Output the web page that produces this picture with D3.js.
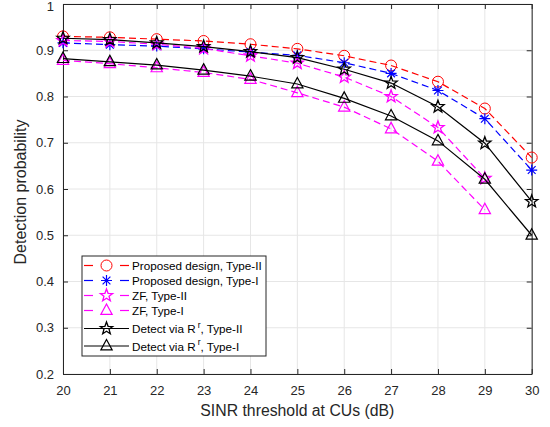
<!DOCTYPE html>
<html lang="en">
<head>
<meta charset="UTF-8">
<title>Detection probability</title>
<script src="https://cdn.jsdelivr.net/npm/d3@7"></script>
<style>
  body { margin: 0; background: #fff; }
  svg { font-family: "Liberation Sans", Arial, sans-serif; }
</style>
</head>
<body>
<script>
// x values (SINR threshold, dB)
const sinr = [20, 21, 22, 23, 24, 25, 26, 27, 28, 29, 30]
const sinrZF = [20, 21, 22, 23, 24, 25, 26, 27, 28, 29]

// series values
const propType2 = [0.930, 0.928, 0.924, 0.920, 0.913, 0.903, 0.888, 0.867, 0.832, 0.774, 0.668]
const propType1 = [0.916, 0.912, 0.909, 0.903, 0.896, 0.889, 0.873, 0.850, 0.813, 0.752, 0.641]
const zfType2 = [0.921, 0.919, 0.913, 0.904, 0.888, 0.872, 0.842, 0.800, 0.733, 0.623]
const zfType1 = [0.878, 0.871, 0.862, 0.852, 0.837, 0.808, 0.777, 0.730, 0.660, 0.555]
const detType2 = [0.926, 0.923, 0.916, 0.908, 0.897, 0.884, 0.859, 0.829, 0.778, 0.699, 0.573]
const detType1 = [0.882, 0.875, 0.868, 0.857, 0.844, 0.827, 0.796, 0.758, 0.704, 0.621, 0.500]

const yTicks = [0.2, 0.3, 0.4, 0.5, 0.6, 0.7, 0.8, 0.9, 1]

const series = [
  {name: "Proposed design, Type-II", x: sinr, y: propType2, color: "#ff0000", dash: "7,4", marker: "circle"},
  {name: "Proposed design, Type-I", x: sinr, y: propType1, color: "#0000ff", dash: "7,4", marker: "asterisk"},
  {name: "ZF, Type-II", x: sinrZF, y: zfType2, color: "#ff00ff", dash: "7,4", marker: "star"},
  {name: "ZF, Type-I", x: sinrZF, y: zfType1, color: "#ff00ff", dash: "7,4", marker: "triangle"},
  {name: "Detect via R", sup: "r", tail: ", Type-II", x: sinr, y: detType2, color: "#000000", dash: null, marker: "star"},
  {name: "Detect via R", sup: "r", tail: ", Type-I", x: sinr, y: detType1, color: "#000000", dash: null, marker: "triangle"}
]

const W = 550, H = 427
const mLeft = 63, mRight = 531.7, mTop = 4, mBottom = 374

const svg = d3.select("body").append("svg").attr("width", W).attr("height", H)

const x = d3.scaleLinear().domain([20, 30]).range([mLeft, mRight])
const y = d3.scaleLinear().domain([0.2, 1]).range([mBottom, mTop])

// grid
const grid = svg.append("g")
grid.selectAll(".gx").data(sinr).enter().append("line")
  .attr("x1", d => x(d)).attr("x2", d => x(d)).attr("y1", mTop).attr("y2", mBottom)
  .attr("stroke", "#e6e6e6").attr("stroke-width", 1)
grid.selectAll(".gy").data(yTicks).enter().append("line")
  .attr("x1", mLeft).attr("x2", mRight).attr("y1", d => y(d)).attr("y2", d => y(d))
  .attr("stroke", "#e6e6e6").attr("stroke-width", 1)

// axes with inward ticks
function styleAxis(g) {
  g.select(".domain").attr("stroke", "#262626")
  g.selectAll(".tick line").attr("stroke", "#262626")
  g.selectAll(".tick text").attr("fill", "#262626").attr("font-size", 13)
}
svg.append("g").attr("transform", `translate(0,${mBottom})`)
  .call(d3.axisBottom(x).tickValues(sinr).tickFormat(d3.format("d")).tickSize(-5).tickSizeOuter(0).tickPadding(12))
  .call(styleAxis)
const yAxisG = svg.append("g").attr("transform", `translate(${mLeft},0)`)
  .call(d3.axisLeft(y).tickValues(yTicks).tickFormat(d => d === 1 ? "1" : d3.format(".1f")(d)).tickSize(-5).tickSizeOuter(0).tickPadding(9))
  .call(styleAxis)
// keep the top label inside the page
yAxisG.selectAll(".tick text").filter(d => d === 1).attr("dy", "0.5em")
svg.append("g").attr("transform", `translate(0,${mTop})`)
  .call(d3.axisTop(x).tickValues(sinr).tickFormat("").tickSize(-5).tickSizeOuter(0))
  .call(styleAxis)
svg.append("g").attr("transform", `translate(${mRight},0)`)
  .call(d3.axisRight(y).tickValues(yTicks).tickFormat("").tickSize(-5).tickSizeOuter(0))
  .call(styleAxis)

// markers
function drawMarker(g, type, color, cx, cy) {
  if (type === "circle") {
    g.append("circle").attr("cx", cx).attr("cy", cy).attr("r", 5.5)
      .attr("fill", "none").attr("stroke", color).attr("stroke-width", 1)
  } else if (type === "triangle") {
    const r = 6.5
    g.append("path")
      .attr("d", `M${cx},${cy - r}L${cx + r * 0.87},${cy + r * 0.6}L${cx - r * 0.87},${cy + r * 0.6}Z`)
      .attr("fill", "none").attr("stroke", color).attr("stroke-width", 1.2)
  } else if (type === "star") {
    const pts = []
    for (let i = 0; i < 10; i++) {
      const rr = i % 2 === 0 ? 6.5 : 2.7
      const a = -Math.PI / 2 + i * Math.PI / 5
      pts.push([cx + rr * Math.cos(a), cy + rr * Math.sin(a)])
    }
    g.append("path").attr("d", "M" + pts.map(p => p.join(",")).join("L") + "Z")
      .attr("fill", "none").attr("stroke", color).attr("stroke-width", 1.3)
  } else if (type === "asterisk") {
    const r = 5.5
    const p = []
    for (let i = 0; i < 4; i++) {
      const a = i * Math.PI / 4
      p.push(`M${cx - r * Math.cos(a)},${cy - r * Math.sin(a)}L${cx + r * Math.cos(a)},${cy + r * Math.sin(a)}`)
    }
    g.append("path").attr("d", p.join("")).attr("stroke", color).attr("stroke-width", 1.2)
  }
}

const line = d3.line().x(d => x(d[0])).y(d => y(d[1]))
const plot = svg.append("g")
series.forEach(s => {
  const pts = s.x.map((v, i) => [v, s.y[i]])
  plot.append("path").datum(pts).attr("d", line)
    .attr("fill", "none").attr("stroke", s.color).attr("stroke-width", 1.2)
    .attr("stroke-dasharray", s.dash)
  pts.forEach(p => drawMarker(plot, s.marker, s.color, x(p[0]), y(p[1])))
})

// legend
const lg = svg.append("g")
lg.append("rect").attr("x", 82).attr("y", 256).attr("width", 184).attr("height", 100)
  .attr("fill", "#fff").attr("stroke", "#262626").attr("stroke-width", 1)
const rowsY = [265.5, 280.5, 295.5, 310.5, 328.5, 346]
series.forEach((s, i) => {
  const yy = rowsY[i]
  if (s.dash) {
    lg.append("line").attr("x1", 84).attr("x2", 93).attr("y1", yy).attr("y2", yy)
      .attr("stroke", s.color).attr("stroke-width", 1.2)
    lg.append("line").attr("x1", 120).attr("x2", 129).attr("y1", yy).attr("y2", yy)
      .attr("stroke", s.color).attr("stroke-width", 1.2)
  } else {
    lg.append("line").attr("x1", 84).attr("x2", 129).attr("y1", yy).attr("y2", yy)
      .attr("stroke", s.color).attr("stroke-width", 1.2)
  }
  drawMarker(lg, s.marker, s.color, 106.5, yy)
  const t = lg.append("text").attr("x", 132).attr("y", yy + 4.5).attr("font-size", 11.7).attr("fill", "#000")
  t.append("tspan").text(s.name)
  if (s.sup) {
    t.append("tspan").attr("dy", -5.5).attr("dx", 2).attr("font-size", 8.5).text(s.sup)
    t.append("tspan").attr("dy", 5.5).text(s.tail)
  }
})

// axis labels
svg.append("text").attr("x", (mLeft + mRight) / 2).attr("y", 416).attr("text-anchor", "middle")
  .attr("font-size", 15.8).attr("fill", "#262626").text("SINR threshold at CUs (dB)")
svg.append("text").attr("transform", `translate(26,192) rotate(-90)`).attr("text-anchor", "middle")
  .attr("font-size", 16).attr("fill", "#262626").text("Detection probability")
</script>
</body>
</html>
